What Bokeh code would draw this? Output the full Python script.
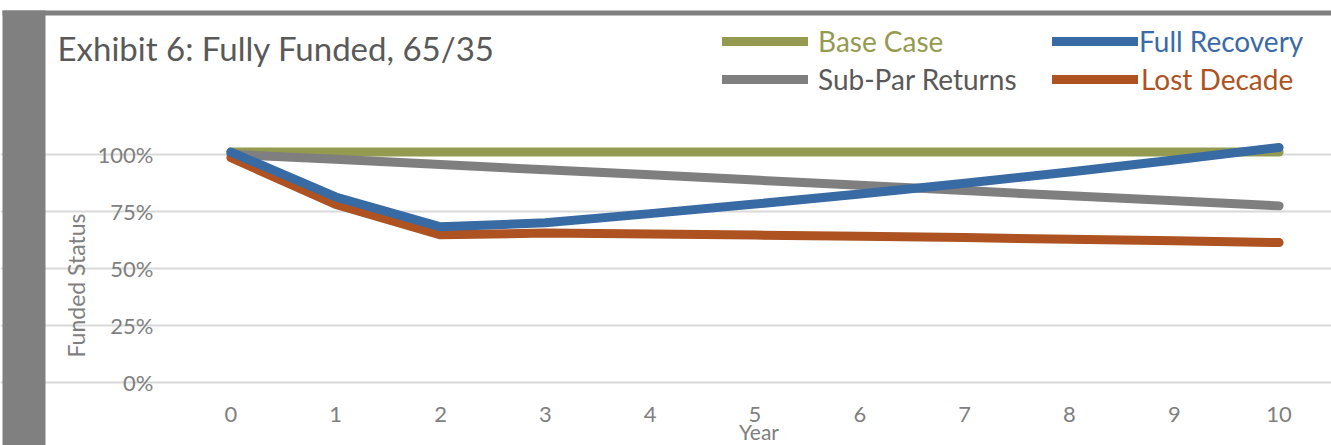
from math import pi
from bokeh.plotting import figure
from bokeh.models import FixedTicker, Label, BoxAnnotation, Legend, LegendItem, Range1d
from bokeh.core.properties import value
from bokeh.embed import file_html
from bokeh.resources import INLINE

# ---- data ----
years = [0, 1, 2, 3, 4, 5, 6, 7, 8, 9, 10]
x_tick_labels = ["0", "1", "2", "3", "4", "5", "6", "7", "8", "9", "10"]
y_ticks = [0.0, 0.25, 0.5, 0.75, 1.0]
y_tick_labels = ["0%", "25%", "50%", "75%", "100%"]

base_case = [1.01, 1.01, 1.01, 1.01, 1.01, 1.01, 1.01, 1.01, 1.01, 1.01, 1.01]
sub_par = [1.00, 0.978, 0.955, 0.932, 0.910, 0.887, 0.864, 0.841, 0.818, 0.796, 0.774]
lost_decade = [0.985, 0.780, 0.647, 0.655, 0.651, 0.646, 0.641, 0.635, 0.628, 0.621, 0.613]
full_recovery = [1.01, 0.813, 0.682, 0.700, 0.740, 0.782, 0.826, 0.873, 0.922, 0.975, 1.030]

series_names = ["Base Case", "Full Recovery", "Sub-Par Returns", "Lost Decade"]
line_colors = ["#949B50", "#386AA4", "#7F7F7F", "#AD5220"]
text_colors = ["#949B50", "#3A6BA6", "#595959", "#AD5220"]

title_text = "Exhibit 6: Fully Funded, 65/35"
x_title = "Year"
y_title = "Funded Status"

FONT = "Lato"
W, H = 1331, 445
# plot-area geometry in pixels (chart drawn on a full-canvas frame)
PA_LEFT, PA_RIGHT = 178, 1331
PA_ZERO_Y, PX_PER_UNIT_Y = 382.0, 228.2
n_cat = len(years)
px_per_cat = (PA_RIGHT - PA_LEFT) / n_cat
x_start = -0.5 - PA_LEFT / px_per_cat
x_end = years[-1] + 0.5
y_start = -(H - PA_ZERO_Y) / PX_PER_UNIT_Y
y_end = PA_ZERO_Y / PX_PER_UNIT_Y

p = figure(width=W, height=H, output_backend="svg", toolbar_location=None,
           x_range=Range1d(x_start, x_end), y_range=Range1d(y_start, y_end),
           min_border=0, x_axis_location=None, y_axis_location=None)
p.outline_line_color = None
p.background_fill_color = "white"
p.border_fill_color = "white"

# horizontal gridlines, only across the plot area
p.xgrid.grid_line_color = None
p.ygrid.ticker = FixedTicker(ticks=y_ticks)
p.ygrid.bounds = (-0.5, x_end)
p.ygrid.grid_line_color = "#D9D9D9"
p.ygrid.grid_line_width = 2

# gray frame decoration (left strip and top band)
p.add_layout(BoxAnnotation(left=2, right=45, bottom=0, top=H - 10,
                           left_units="screen", right_units="screen",
                           bottom_units="screen", top_units="screen",
                           fill_color="#808080", fill_alpha=1, line_color=None, level="underlay"))
p.add_layout(BoxAnnotation(left=2, right=W, bottom=H - 15, top=H - 10,
                           left_units="screen", right_units="screen",
                           bottom_units="screen", top_units="screen",
                           fill_color="#808080", fill_alpha=1, line_color=None, level="underlay"))

# tick labels placed through the data scales
y_lab_x = -0.5 - 25 / px_per_cat
p.text(x=[y_lab_x] * len(y_ticks), y=y_ticks, text=y_tick_labels,
       text_font=value(FONT), text_font_size="22px", text_color="#7F7F7F",
       text_align="right", text_baseline="middle")
x_lab_y = -(414 - PA_ZERO_Y) / PX_PER_UNIT_Y
p.text(x=years, y=[x_lab_y] * len(years), text=x_tick_labels,
       text_font=value(FONT), text_font_size="22px", text_color="#7F7F7F",
       text_align="center", text_baseline="middle")

# axis titles
p.add_layout(Label(x=(PA_LEFT + PA_RIGHT) / 2 + 4, y=H - 431, x_units="screen", y_units="screen",
                   text=x_title, text_font=FONT, text_font_size="21px",
                   text_color="#7F7F7F", text_align="center", text_baseline="middle"))
p.add_layout(Label(x=75, y=H - 285, x_units="screen", y_units="screen", angle=pi / 2,
                   text=y_title, text_font=FONT, text_font_size="23px",
                   text_color="#7F7F7F", text_baseline="middle", text_align="center"))

# chart title
p.add_layout(Label(x=57, y=H - 47, x_units="screen", y_units="screen",
                   text=title_text, text_font=FONT, text_font_size="33px",
                   text_color="#595959", text_baseline="middle"))

# lines (draw order: base, sub-par, lost decade, full recovery on top)
data = {"Base Case": base_case, "Full Recovery": full_recovery,
        "Sub-Par Returns": sub_par, "Lost Decade": lost_decade}
renderers = {}
for name in ["Base Case", "Sub-Par Returns", "Lost Decade", "Full Recovery"]:
    i = series_names.index(name)
    renderers[name] = p.line(years, data[name], line_color=line_colors[i], line_width=9,
                             line_cap="round", line_join="round")

# legends (one per entry so that each label keeps its series colour)
# (x of glyph start, y of row centre, label standoff) in canvas pixels
legend_pos = {"Base Case": (722, 43, 10), "Full Recovery": (1052, 43, 1),
              "Sub-Par Returns": (722, 81, 10), "Lost Decade": (1052, 81, 3)}
ITEM_H = 30
for name, (lx, cy, so) in legend_pos.items():
    i = series_names.index(name)
    lg = Legend(items=[LegendItem(label=name, renderers=[renderers[name]])],
                location=(lx, H - cy - ITEM_H / 2), padding=0, margin=0, spacing=0,
                glyph_width=86, glyph_height=ITEM_H, label_height=ITEM_H, label_standoff=so,
                label_text_font=FONT, label_text_font_size="28px",
                label_text_color=text_colors[i], label_text_baseline="middle",
                border_line_color=None, background_fill_alpha=0)
    p.add_layout(lg, "center")

open("out.html", "w").write(file_html(p, INLINE))
